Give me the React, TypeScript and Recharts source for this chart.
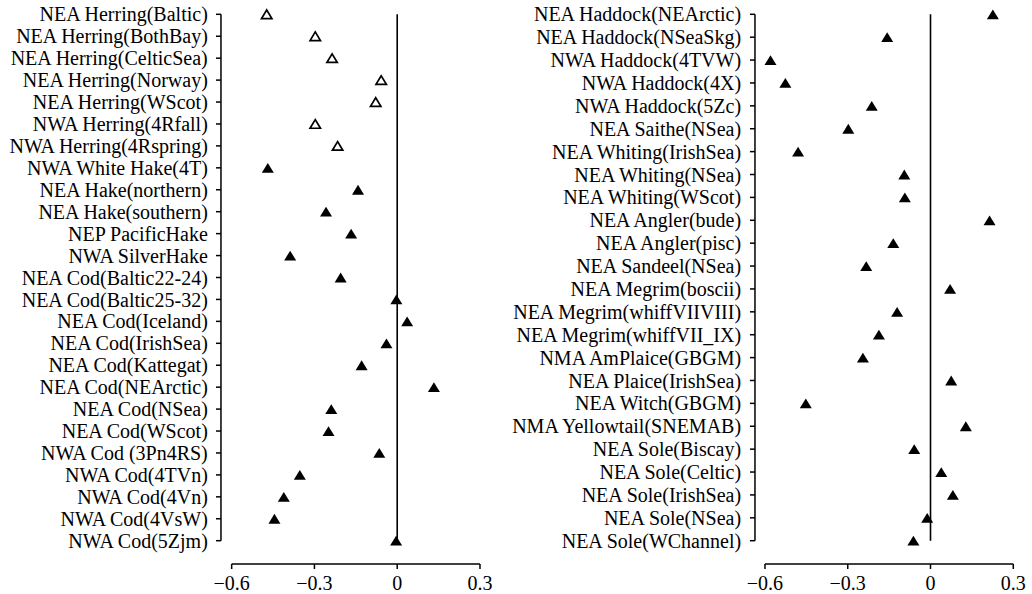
import React from 'react';
import { ScatterChart, Scatter, XAxis, YAxis, ReferenceLine } from 'recharts';

// ---- Left panel ----
const leftNames = [
  'NEA Herring(Baltic)', 'NEA Herring(BothBay)', 'NEA Herring(CelticSea)', 'NEA Herring(Norway)',
  'NEA Herring(WScot)', 'NWA Herring(4Rfall)', 'NWA Herring(4Rspring)', 'NWA White Hake(4T)',
  'NEA Hake(northern)', 'NEA Hake(southern)', 'NEP PacificHake', 'NWA SilverHake',
  'NEA Cod(Baltic22-24)', 'NEA Cod(Baltic25-32)', 'NEA Cod(Iceland)', 'NEA Cod(IrishSea)',
  'NEA Cod(Kattegat)', 'NEA Cod(NEArctic)', 'NEA Cod(NSea)', 'NEA Cod(WScot)',
  'NWA Cod (3Pn4RS)', 'NWA Cod(4TVn)', 'NWA Cod(4Vn)', 'NWA Cod(4VsW)', 'NWA Cod(5Zjm)',
];
const leftValues = [
  -0.473, -0.297, -0.236, -0.058, -0.078, -0.297, -0.216, -0.469,
  -0.142, -0.258, -0.167, -0.388, -0.205, -0.003, 0.036, -0.039,
  -0.129, 0.133, -0.239, -0.249, -0.065, -0.353, -0.411, -0.445, -0.004,
];
// first entries (herring stocks) drawn with hollow markers
const leftHollowCount = 7;

// ---- Right panel ----
const rightNames = [
  'NEA Haddock(NEArctic)', 'NEA Haddock(NSeaSkg)', 'NWA Haddock(4TVW)', 'NWA Haddock(4X)',
  'NWA Haddock(5Zc)', 'NEA Saithe(NSea)', 'NEA Whiting(IrishSea)', 'NEA Whiting(NSea)',
  'NEA Whiting(WScot)', 'NEA Angler(bude)', 'NEA Angler(pisc)', 'NEA Sandeel(NSea)',
  'NEA Megrim(boscii)', 'NEA Megrim(whiffVIIVIII)', 'NEA Megrim(whiffVII_IX)', 'NMA AmPlaice(GBGM)',
  'NEA Plaice(IrishSea)', 'NEA Witch(GBGM)', 'NMA Yellowtail(SNEMAB)', 'NEA Sole(Biscay)',
  'NEA Sole(Celtic)', 'NEA Sole(IrishSea)', 'NEA Sole(NSea)', 'NEA Sole(WChannel)',
];
const rightValues = [
  0.226, -0.157, -0.580, -0.526, -0.213, -0.298, -0.480, -0.095,
  -0.093, 0.214, -0.135, -0.233, 0.071, -0.121, -0.187, -0.245,
  0.075, -0.452, 0.128, -0.059, 0.039, 0.081, -0.012, -0.062,
];

const xTicks = [-0.6, -0.3, 0, 0.3];

// ---- layout constants (pixels / domain padding) ----
const FONT = 'Liberation Serif';
const CHART_H = 594;
const PLOT_TOP = 3;
const X_AXIS_H = 20;
const PLOT_BOTTOM = CHART_H - X_AXIS_H;
const ROW0 = 14.3; // pixel of first category
const ROWN = 540.7; // pixel of last category
const X_LO = -0.672; // domain padding so the detached axes sit inside the plotting region
const X_HI = 0.32;
const X_GAP = 23.3; // x axis below last category (px)
const TICK = 5;
const AXIS_W = 1.5;

const fmtX = (v: number) => (v === 0 ? '0' : v < 0 ? '\u2212' + Math.abs(v).toFixed(1) : v.toFixed(1));

const Tri = (props: any) => {
  const { cx, cy, hollow } = props;
  if (cx == null || cy == null) return null;
  if (hollow) {
    const hw = 5.2, hh = 4.3;
    return (
      <polygon
        points={`${cx},${cy - hh} ${cx - hw},${cy + hh} ${cx + hw},${cy + hh}`}
        fill="#fff"
        stroke="#000"
        strokeWidth={1.7}
      />
    );
  }
  const hw = 6, hh = 4.9;
  return <polygon points={`${cx},${cy - hh} ${cx - hw},${cy + hh} ${cx + hw},${cy + hh}`} fill="#000" />;
};

type Pt = { idx: number; v: number; name: string };

function build(names: string[], values: number[], from: number, to: number): Pt[] {
  const out: Pt[] = [];
  for (let i = from; i < to; i++) out.push({ idx: i, v: values[i], name: names[i] });
  return out;
}

function Panel({
  names,
  values,
  hollowCount,
  width,
  yAxisWidth,
  yPad,
  marginRight,
}: {
  names: string[];
  values: number[];
  hollowCount: number;
  width: number;
  yAxisWidth: number;
  yPad: number;
  marginRight: number;
}) {
  const n = names.length;
  const yTicks = names.map((_, i) => i);
  const hollowData = build(names, values, 0, hollowCount);
  const filledData = build(names, values, hollowCount, n);

  const plotW = width - marginRight - yAxisWidth;
  const xs = plotW / (X_HI - X_LO); // px per unit
  const s = (ROWN - ROW0) / (n - 1); // px per category
  const yLo = -(ROW0 - PLOT_TOP) / s;
  const yHi = n - 1 + (PLOT_BOTTOM - ROWN) / s;
  const yAxisX = xTicks[0] - yPad / xs;
  const xAxisY = n - 1 + X_GAP / s;

  const YTick = (p: any) => {
    const { x, y, payload } = p;
    return (
      <text x={x - 4} y={y} dy="0.355em" textAnchor="end" fontSize={20} fontFamily={FONT} fill="#000">
        {names[payload.value as number]}
      </text>
    );
  };

  const XTick = (p: any) => {
    const { x, y, payload } = p;
    return (
      <text x={x} y={y + 2} dy="0.71em" textAnchor="middle" fontSize={20} fontFamily={FONT} fill="#000">
        {fmtX(payload.value as number)}
      </text>
    );
  };

  return (
    <ScatterChart
      width={width}
      height={CHART_H}
      margin={{ top: PLOT_TOP, right: marginRight, bottom: 0, left: 0 }}
    >
      <XAxis
        type="number"
        dataKey="v"
        domain={[X_LO, X_HI]}
        ticks={xTicks}
        interval={0}
        axisLine={false}
        tickLine={false}
        tickSize={0}
        tickMargin={0}
        height={X_AXIS_H}
        tick={XTick}
      />
      <YAxis
        type="number"
        dataKey="idx"
        domain={[yLo, yHi]}
        reversed
        ticks={yTicks}
        interval={0}
        axisLine={false}
        tickLine={false}
        tickSize={0}
        tickMargin={0}
        width={yAxisWidth}
        tick={YTick}
      />
      {/* detached y axis: line + ticks */}
      <ReferenceLine
        segment={[{ x: yAxisX, y: 0 }, { x: yAxisX, y: n - 1 }]}
        stroke="#000"
        strokeWidth={AXIS_W}
      />
      {yTicks.map((i) => (
        <ReferenceLine
          key={'yt' + i}
          segment={[{ x: yAxisX - TICK / xs, y: i }, { x: yAxisX, y: i }]}
          stroke="#000"
          strokeWidth={AXIS_W}
        />
      ))}
      {/* detached x axis: line + ticks */}
      <ReferenceLine
        segment={[{ x: xTicks[0], y: xAxisY }, { x: xTicks[xTicks.length - 1], y: xAxisY }]}
        stroke="#000"
        strokeWidth={AXIS_W}
      />
      {xTicks.map((t) => (
        <ReferenceLine
          key={'xt' + t}
          segment={[{ x: t, y: xAxisY }, { x: t, y: xAxisY + TICK / s }]}
          stroke="#000"
          strokeWidth={AXIS_W}
        />
      ))}
      {/* zero reference line */}
      <ReferenceLine segment={[{ x: 0, y: 0 }, { x: 0, y: n - 1 }]} stroke="#000" strokeWidth={1.6} />
      {hollowData.length > 0 && (
        <Scatter data={hollowData} isAnimationActive={false} shape={(p: any) => <Tri {...p} hollow />} />
      )}
      <Scatter data={filledData} isAnimationActive={false} shape={(p: any) => <Tri {...p} />} />
    </ScatterChart>
  );
}

export default function App() {
  return (
    <div style={{ position: 'absolute', left: 0, top: 0, width: 1032, height: 594, background: '#fff' }}>
      <div style={{ position: 'absolute', left: 0, top: 0 }}>
        <Panel
          names={leftNames}
          values={leftValues}
          hollowCount={leftHollowCount}
          width={500}
          yAxisWidth={211.8}
          yPad={10.7}
          marginRight={14.5}
        />
      </div>
      <div style={{ position: 'absolute', left: 500, top: 0 }}>
        <Panel
          names={rightNames}
          values={rightValues}
          hollowCount={0}
          width={532}
          yAxisWidth={245.1}
          yPad={10}
          marginRight={13.2}
        />
      </div>
    </div>
  );
}
